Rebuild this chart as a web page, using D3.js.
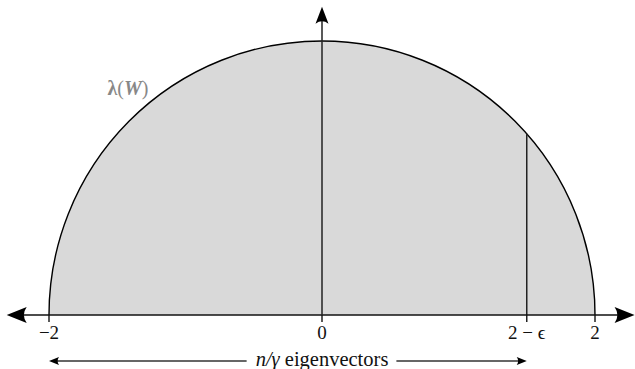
<!DOCTYPE html>
<html>
<head>
<meta charset="utf-8">
<script src="https://cdn.jsdelivr.net/npm/d3@7/dist/d3.min.js"></script>
<style>
  html, body { margin: 0; padding: 0; background: #fff; }
  svg { display: block; }
</style>
</head>
<body>
<svg id="chart" width="635" height="369"></svg>
<script>
// Semicircle spectrum: support radius and the marked edge point 2 - ε
const radius = [2];
const edge = [1.5];
const tickValues = [-2, 0, 1.5, 2];
const tickLabels = ["\u22122", "0", "2 \u2212 \u03F5", "2"];
const axisExtentX = [-2.31, 2.29];
const axisExtentY = [0, 2.25];
const spectrumLabel = ["\u03BB(", "W", ")"];
const spanLabel = ["n/\u03B3", " eigenvectors"];

const svg = d3.select("#chart");

const x = d3.scaleLinear().domain([-2, 2]).range([49, 595]);
const y = d3.scaleLinear().domain([0, 2]).range([315, 41]);

const R = radius[0];
const rx = x(R) - x(0), ry = y(0) - y(R);

// filled semicircle
svg.append("path")
  .attr("d", `M${x(-R)},${y(0)} A${rx},${ry} 0 0 1 ${x(R)},${y(0)} Z`)
  .attr("fill", "#d9d9d9")
  .attr("stroke", "none");

// outline of the arc
svg.append("path")
  .attr("d", `M${x(-R)},${y(0)} A${rx},${ry} 0 0 1 ${x(R)},${y(0)}`)
  .attr("fill", "none")
  .attr("stroke", "#000")
  .attr("stroke-width", 1.4);

// vertical line at 2 - ε up to the arc
const e = edge[0];
svg.append("line")
  .attr("x1", x(e)).attr("x2", x(e))
  .attr("y1", y(0)).attr("y2", y(Math.sqrt(R * R - e * e)))
  .attr("stroke", "#222").attr("stroke-width", 1.5);

// tick marks below the axis
svg.selectAll("line.tick").data(tickValues).enter().append("line")
  .attr("class", "tick")
  .attr("x1", d => x(d)).attr("x2", d => x(d))
  .attr("y1", y(0)).attr("y2", y(0) + 7)
  .attr("stroke", "#222").attr("stroke-width", 1.5);

// horizontal axis
svg.append("line")
  .attr("x1", x(axisExtentX[0]) + 12).attr("x2", x(axisExtentX[1]) - 12)
  .attr("y1", y(0)).attr("y2", y(0))
  .attr("stroke", "#111").attr("stroke-width", 1.6);

// vertical axis
svg.append("line")
  .attr("x1", x(0)).attr("x2", x(0))
  .attr("y1", y(0)).attr("y2", y(axisExtentY[1]) + 10)
  .attr("stroke", "#222").attr("stroke-width", 1.5);

// arrowhead pointing along +x, tip at origin
function head(len, hw) {
  return `M0,0 L${-len},${-hw} Q${-len * 0.72},0 ${-len},${hw} Z`;
}
svg.append("path").attr("d", head(20, 8))
  .attr("transform", `translate(${x(axisExtentX[1])},${y(0)})`).attr("fill", "#000");
svg.append("path").attr("d", head(20, 8))
  .attr("transform", `translate(${x(axisExtentX[0])},${y(0)}) rotate(180)`).attr("fill", "#000");
svg.append("path").attr("d", head(17, 6.5))
  .attr("transform", `translate(${x(0)},${y(axisExtentY[1])}) rotate(-90)`).attr("fill", "#000");

// tick labels
svg.selectAll("text.tl").data(tickValues).enter().append("text")
  .attr("class", "tl")
  .attr("x", d => x(d)).attr("y", y(0) + 24)
  .attr("text-anchor", "middle")
  .attr("font-family", "'Liberation Serif', serif")
  .attr("font-size", 19)
  .attr("fill", "#111")
  .text((d, i) => tickLabels[i]);

// λ(W) label
const lab = svg.append("text")
  .attr("x", 128).attr("y", 95)
  .attr("text-anchor", "middle")
  .attr("font-family", "'Liberation Serif', serif")
  .attr("font-size", 20)
  .attr("fill", "#888");
lab.append("tspan").attr("font-weight", "bold").text(spectrumLabel[0].slice(0, 1));
lab.append("tspan").text(spectrumLabel[0].slice(1));
lab.append("tspan").attr("font-style", "italic").attr("font-weight", "bold").text(spectrumLabel[1]);
lab.append("tspan").text(spectrumLabel[2]);

// span arrow: n/γ eigenvectors between -2 and 2 - ε
const ay = 361;
const span = svg.append("text")
  .attr("x", x(0)).attr("y", 366)
  .attr("text-anchor", "middle")
  .attr("font-family", "'Liberation Serif', serif")
  .attr("font-size", 20.5)
  .attr("fill", "#111");
span.append("tspan").attr("font-style", "italic").text(spanLabel[0]);
span.append("tspan").text(spanLabel[1]);

const bb = span.node().getBBox();
svg.append("line")
  .attr("x1", x(-R) + 8).attr("x2", bb.x - 9)
  .attr("y1", ay).attr("y2", ay)
  .attr("stroke", "#333").attr("stroke-width", 1.3);
svg.append("line")
  .attr("x1", bb.x + bb.width + 8).attr("x2", x(e) - 8)
  .attr("y1", ay).attr("y2", ay)
  .attr("stroke", "#333").attr("stroke-width", 1.3);
svg.append("path").attr("d", head(10, 4))
  .attr("transform", `translate(${x(-R)},${ay}) rotate(180)`).attr("fill", "#000");
svg.append("path").attr("d", head(10, 4))
  .attr("transform", `translate(${x(e)},${ay})`).attr("fill", "#000");
</script>
</body>
</html>
